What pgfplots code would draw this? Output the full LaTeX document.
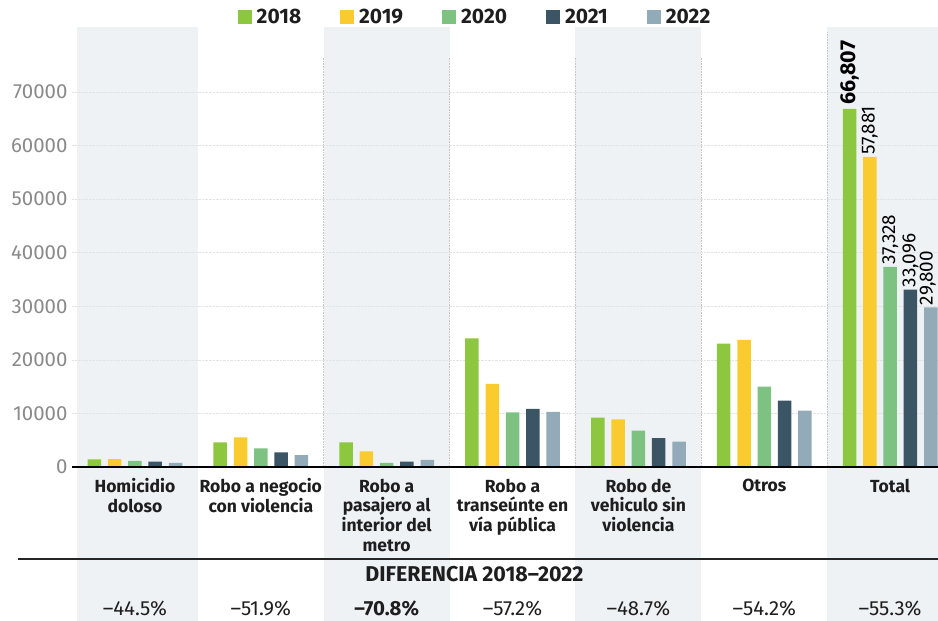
\documentclass[border=0pt]{standalone}
\usepackage{pgfplots}
\pgfplotsset{compat=1.18}
\usepackage{fontspec}
\setmainfont{Fira Sans}
\definecolor{c18}{HTML}{8DC63F}
\definecolor{c19}{HTML}{FACB2E}
\definecolor{c20}{HTML}{7DC280}
\definecolor{c21}{HTML}{3B5564}
\definecolor{c22}{HTML}{93AAB8}
\definecolor{band}{HTML}{EEF2F5}
\definecolor{tickgray}{HTML}{8A8A8A}
\definecolor{txt}{HTML}{1E1E1E}
\pgfplotsset{sqlegend/.style={legend image code/.code={\fill[##1] (0bp,-7bp) rectangle (14bp,7bp);}}}
\begin{document}
\begin{tikzpicture}
\useasboundingbox (0,0) rectangle (938bp,621bp);
% shaded category bands
\fill[band] (77bp,0bp) rectangle (197.8bp,594bp);
\fill[band] (323.7bp,0bp) rectangle (449.5bp,594bp);
\fill[band] (575.4bp,0bp) rectangle (701.3bp,594bp);
\fill[band] (827.2bp,0bp) rectangle (938bp,594bp);
% dotted separators
\foreach \xx in {323.7,449.5,575.4,701.3}{\draw[gray!45, densely dotted, line width=0.6bp] (\xx bp,154bp) -- (\xx bp,563bp);}
\draw[gray!45, densely dotted, line width=0.6bp] (827.2bp,154bp) -- (827.2bp,589bp);
\begin{axis}[
  at={(72bp,154bp)}, anchor=south west,
  scale only axis, width=866bp, height=440bp,
  xmin=-0.5, xmax=6.38, ymin=0, ymax=82100,
  clip=false,
  axis line style={draw=none}, tick style={draw=none},
  ytick={0,10000,20000,30000,40000,50000,60000,70000},
  scaled y ticks=false,
  yticklabel style={font=\fontsize{20.5}{20.5}\selectfont, text=tickgray, /pgf/number format/assume math mode=true, /pgf/number format/set thousands separator={}, xshift=-1bp},
  ymajorgrids, grid style={densely dotted, gray!22, line width=0.6bp},
  xtick={0,1,2,3,4,5,6},
  xticklabels={{Homicidio\\doloso},{Robo a negocio\\con violencia},{Robo a\\pasajero al\\interior del\\metro},{Robo a\\transeúnte en\\vía pública},{Robo de\\vehiculo sin\\violencia},{Otros},{Total}},
  xticklabel style={align=center, font=\fontsize{17.6}{19.8}\selectfont\bfseries, text=txt, anchor=north, yshift=-4bp},
  ybar=6.8bp, bar width=13.5bp,
  legend columns=-1,
  legend style={at={(0.4654,1.0227)}, anchor=center, draw=none, fill=none,
    font=\fontsize{21}{21}\selectfont\bfseries, text=txt,
    /tikz/every odd column/.append style={column sep=3bp},
    /tikz/every even column/.append style={column sep=37bp}},
  point meta=explicit symbolic,
  nodes near coords,
  every node near coord/.append style={rotate=90, anchor=west, inner sep=2bp, font=\fontsize{19}{19}\selectfont, text=black},
]
\addplot[fill=c18, draw=none, sqlegend, every node near coord/.append style={font=\fontsize{21.5}{21.5}\selectfont\bfseries, inner sep=4bp}] coordinates {
 (0,1400) [{}] (1,4600) [{}] (2,4600) [{}] (3,24000) [{}] (4,9200) [{}] (5,23000) [{}] (6,66807) [{66,807}]};
\addplot[fill=c19, draw=none, sqlegend] coordinates {
 (0,1480) [{}] (1,5530) [{}] (2,2920) [{}] (3,15500) [{}] (4,8900) [{}] (5,23700) [{}] (6,57881) [{57,881}]};
\addplot[fill=c20, draw=none, sqlegend] coordinates {
 (0,1150) [{}] (1,3480) [{}] (2,750) [{}] (3,10200) [{}] (4,6800) [{}] (5,15000) [{}] (6,37328) [{37,328}]};
\addplot[fill=c21, draw=none, sqlegend] coordinates {
 (0,980) [{}] (1,2730) [{}] (2,1000) [{}] (3,10850) [{}] (4,5400) [{}] (5,12400) [{}] (6,33096) [{33,096}]};
\addplot[fill=c22, draw=none, sqlegend, every node near coord/.append style={yshift=3bp}] coordinates {
 (0,780) [{}] (1,2210) [{}] (2,1340) [{}] (3,10270) [{}] (4,4720) [{}] (5,10530) [{}] (6,29800) [{29,800}]};
\legend{2018,2019,2020,2021,2022}
\end{axis}
% x axis line
\draw[black, line width=1.3bp] (72bp,154bp) -- (938bp,154bp);
% separator
\draw[black!85, line width=1.4bp] (18bp,62bp) -- (938bp,62bp);
\node[font=\fontsize{21.5}{21.5}\selectfont\bfseries, text=txt] at (474.5bp,47bp) {DIFERENCIA 2018–2022};
\begin{scope}[every node/.style={font=\fontsize{20.5}{20.5}\selectfont, text=txt}]
\node at (134.9bp,12bp) {–44.5\%};
\node at (260.8bp,12bp) {–51.9\%};
\node[font=\fontsize{20.5}{20.5}\selectfont\bfseries] at (386.7bp,12bp) {–70.8\%};
\node at (512.5bp,12bp) {–57.2\%};
\node at (638.4bp,12bp) {–48.7\%};
\node at (764.3bp,12bp) {–54.2\%};
\node at (890.1bp,12bp) {–55.3\%};
\end{scope}
\end{tikzpicture}
\end{document}
